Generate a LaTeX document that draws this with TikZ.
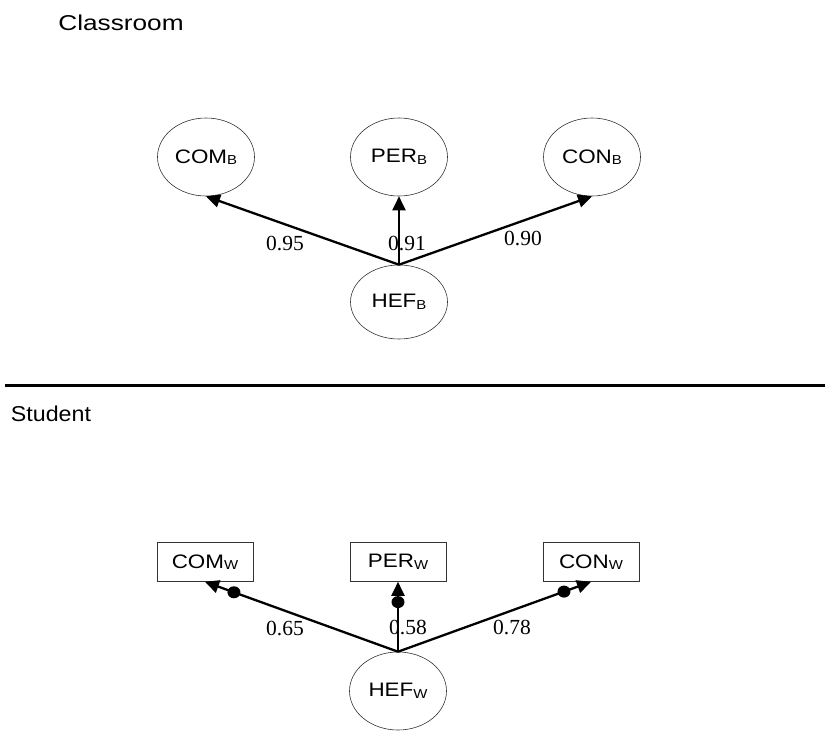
\documentclass[tikz,border=0pt]{standalone}
\usepackage{fontspec}
\setmainfont{Liberation Serif}
\newfontfamily\arialf{Liberation Sans}
\usetikzlibrary{arrows.meta,shapes.geometric}
\newcommand{\lbl}[2]{\scalebox{1.15}[1]{#1\raisebox{-1.5pt}{\fontsize{13}{13}\selectfont #2}}}
\tikzset{
  lat/.style={ellipse,draw=black!80,line width=0.6pt,minimum width=97pt,minimum height=78pt,inner sep=0pt,font=\arialf\fontsize{19.5}{21}\selectfont},
  obs/.style={rectangle,draw=black!80,line width=0.6pt,minimum width=96pt,minimum height=39pt,inner sep=0pt,font=\arialf\fontsize{19.5}{21}\selectfont},
  path/.style={line width=2.3pt,-{Triangle[length=14pt,width=13pt]}},
  num/.style={font=\fontsize{21.5}{22}\selectfont,inner sep=0pt},
  dotm/.style={ellipse,fill=black,draw=none,minimum width=13pt,minimum height=12pt,inner sep=0pt},
  head/.style={font=\arialf\fontsize{21.5}{24}\selectfont,inner sep=0pt}
}
\begin{document}
\begin{tikzpicture}[x=1pt,y=-1pt]
\useasboundingbox (0,0) rectangle (825,731);
% headings
\node[head] (classroom) at (121,23) {\scalebox{1.22}[1]{Classroom}};
\node[head] (student) at (51,414) {\scalebox{1.08}[1]{Student}};
\coordinate (sepL) at (5,385);
\coordinate (sepR) at (825,385);
\draw[line width=3pt] (sepL) -- (sepR);
% between level
\node[lat] (comb) at (206,157) {\lbl{COM}{B}};
\node[lat] (perb) at (399,157) {\lbl{PER}{B}};
\node[lat] (conb) at (592,157) {\lbl{CON}{B}};
\node[lat,minimum height=74pt] (hefb) at (399,302) {\lbl{HEF}{B}};
\draw[path] (hefb.north) -- (comb.south);
\draw[path] (hefb.north) -- (perb.south);
\draw[path] (hefb.north) -- (conb.south);
\node[num] (n95) at (285,243) {0.95};
\node[num] (n91) at (407,243) {0.91};
\node[num] (n90) at (523,238) {0.90};
% within level
\node[obs] (comw) at (205,562) {\lbl{COM}{W}};
\node[obs] (perw) at (398,562) {\lbl{PER}{W}};
\node[obs] (conw) at (591,562) {\lbl{CON}{W}};
\node[lat] (hefw) at (398,691) {\lbl{HEF}{W}};
\draw[path] (hefw.north) -- node[dotm,pos=0.85] (d1) {} (comw.south);
\draw[path] (hefw.north) -- node[dotm,pos=0.71] (d2) {} (perw.south);
\draw[path] (hefw.north) -- node[dotm,pos=0.86] (d3) {} (conw.south);
\node[num] (n65) at (285,628) {0.65};
\node[num] (n58) at (408,627) {0.58};
\node[num] (n78) at (512,627) {0.78};
\end{tikzpicture}
\end{document}
